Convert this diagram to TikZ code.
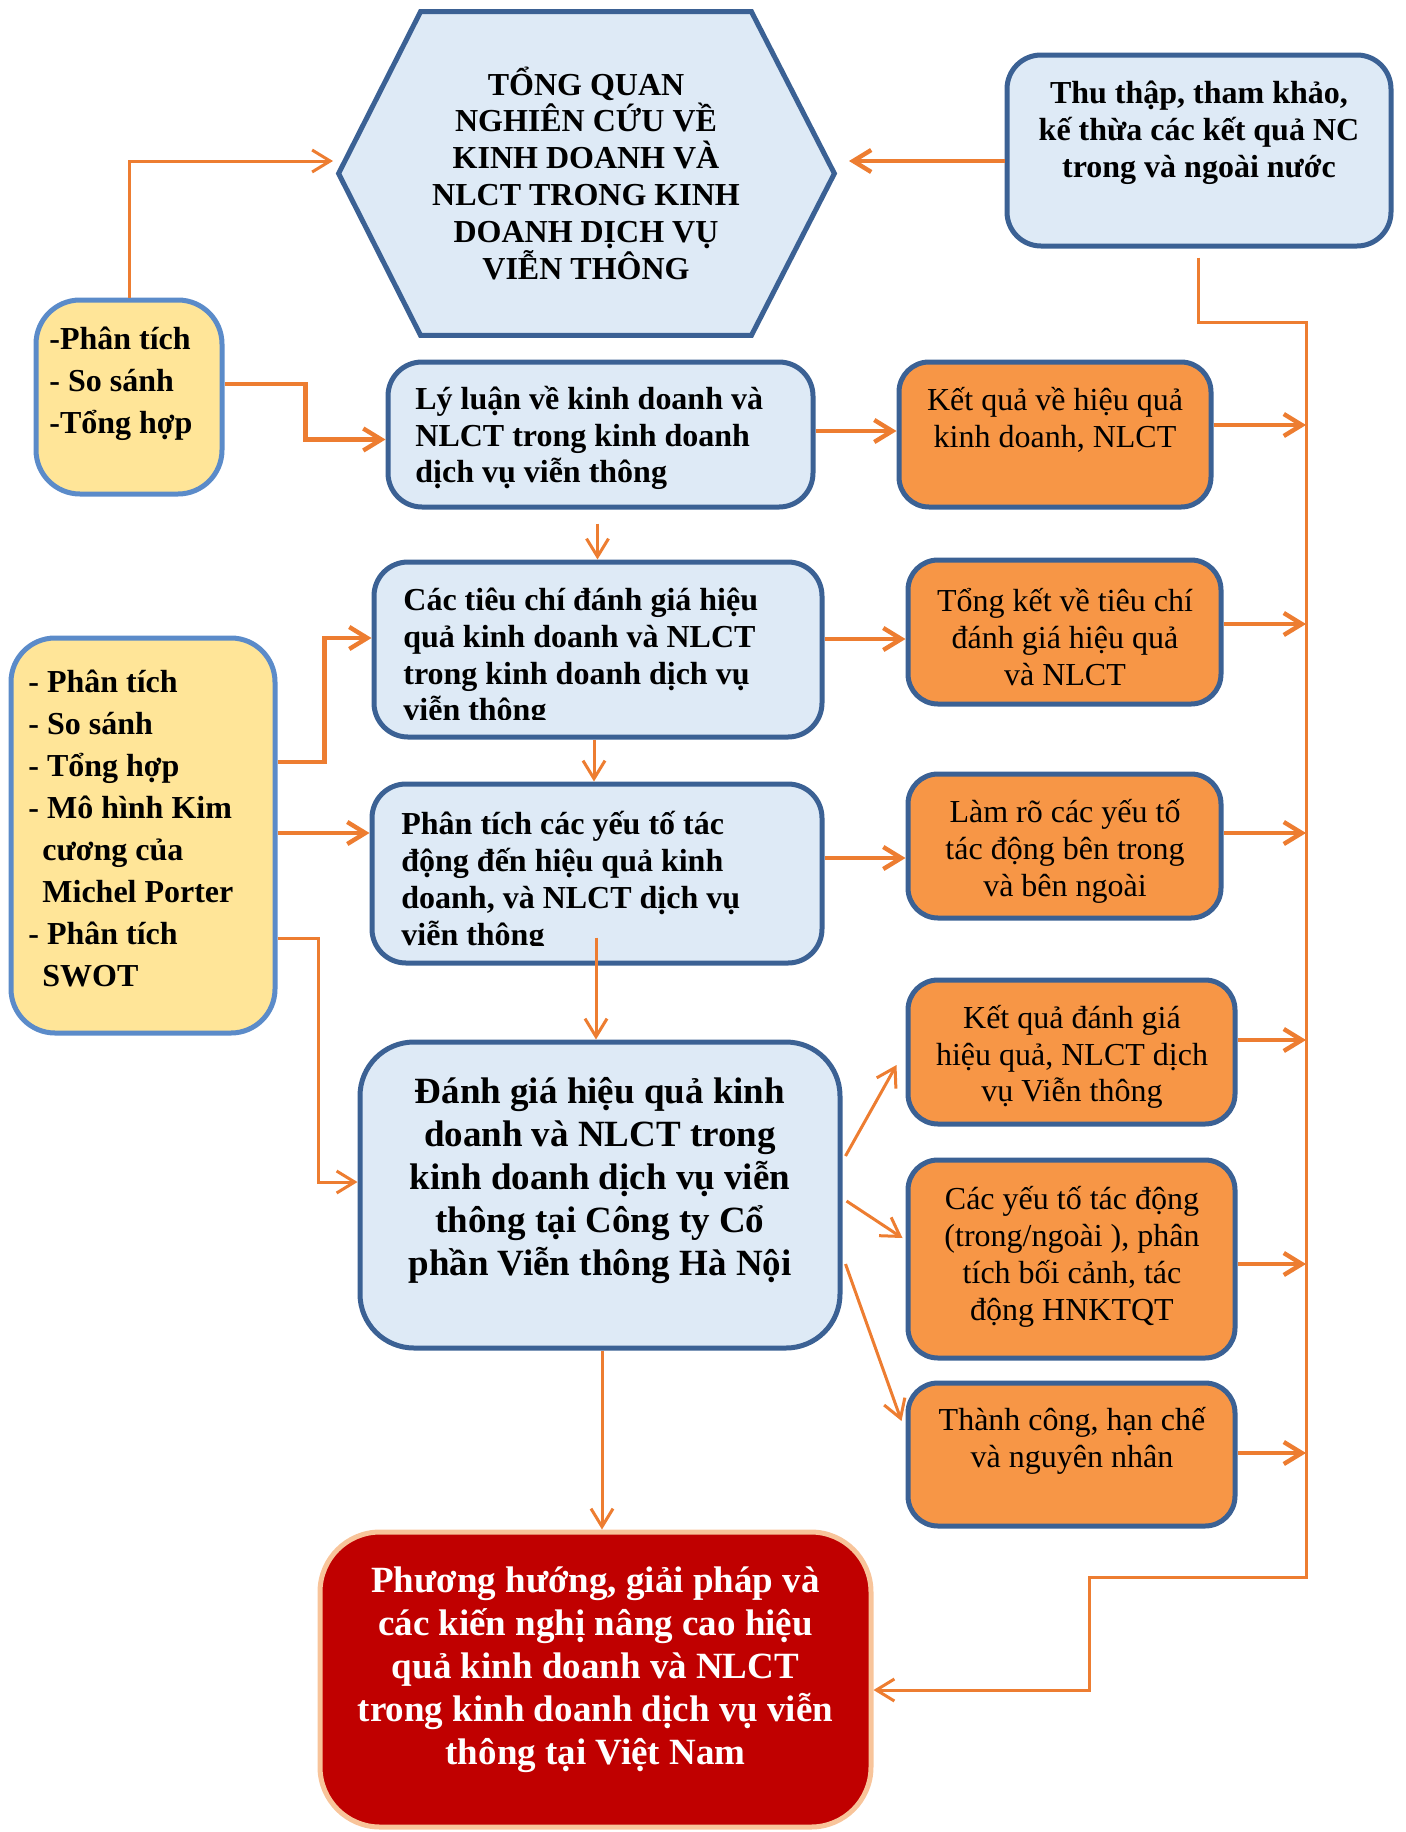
\documentclass[tikz,border=0pt]{standalone}
\usepackage{fontspec}
\setmainfont{Liberation Serif}
\usetikzlibrary{arrows.meta,calc}
\definecolor{bdark}{HTML}{3B6194}
\definecolor{bfill}{HTML}{DEEAF6}
\definecolor{ofill}{HTML}{F79646}
\definecolor{yfill}{HTML}{FFE598}
\definecolor{yborder}{HTML}{5B8BC9}
\definecolor{rfill}{HTML}{C00000}
\definecolor{rborder}{HTML}{F8C49A}
\definecolor{aor}{HTML}{ED7D31}
\begin{document}
\begin{tikzpicture}[x=0.5pt,y=-0.5pt,
  box/.style={line width=2.5pt, inner sep=0pt},
  bluebox/.style={box, draw=bdark, fill=bfill, rounded corners=17pt},
  orangebox/.style={box, draw=bdark, fill=ofill, rounded corners=15pt},
  yellowbox/.style={box, draw=yborder, fill=yfill, rounded corners=22pt},
  redbox/.style={box, draw=rborder, fill=rfill, rounded corners=30pt},
  txt/.style={font=\fontsize{16}{18.4}\selectfont\bfseries, align=left, inner sep=0pt, anchor=west},
  ctxt/.style={font=\fontsize{16}{18.4}\selectfont\bfseries, align=center, inner sep=0pt},
  otxt/.style={font=\fontsize{16}{18.4}\selectfont, align=center, inner sep=0pt},
  ltxt/.style={font=\fontsize{16}{21}\selectfont\bfseries, align=left, inner sep=0pt, anchor=west},
  btxt/.style={font=\fontsize{18.5}{21.5}\selectfont\bfseries, align=center, inner sep=0pt},
  arr/.style={draw=aor, line width=2.2pt, -{Straight Barb[length=9pt,width=11pt]}},
  thinl/.style={line width=1.5pt}]
\useasboundingbox (0,0) rectangle (1405,1832);

% hexagon
\node[minimum width=247.5pt, minimum height=161.5pt, inner sep=0pt] (hex) at (586.5,173.5) {};
\draw[line width=2.5pt, draw=bdark, fill=bfill, line join=miter]
  (hex.west) -- ($(hex.north west)+(82,0)$) -- ($(hex.north east)+(-83,0)$) -- (hex.east)
  -- ($(hex.south east)+(-83,0)$) -- ($(hex.south west)+(82,0)$) -- cycle;
\node[ctxt] (hex-t) at (586,173) {TỔNG QUAN\\NGHIÊN CỨU VỀ\\KINH DOANH VÀ\\NLCT TRONG KINH\\DOANH DỊCH VỤ\\VIỄN THÔNG};

% boxes
\node[bluebox, minimum width=192pt, minimum height=95.5pt] (thu) at (1199,150.5) {};
\node[yellowbox, minimum width=93pt, minimum height=97pt] (left1) at (129,397) {};
\node[bluebox, minimum width=212.5pt, minimum height=72.5pt] (lyluan) at (600.5,434.5) {};
\node[orangebox, minimum width=156pt, minimum height=72.5pt] (kq1) at (1055,434.5) {};
\node[bluebox, minimum width=224pt, minimum height=87.5pt] (tieuchi) at (598,649.5) {};
\node[orangebox, minimum width=156.5pt, minimum height=72pt] (tongket) at (1064.5,632) {};
\node[yellowbox, minimum width=132pt, minimum height=197.5pt] (left2) at (143,835.5) {};
\node[bluebox, minimum width=225pt, minimum height=89.5pt] (phantich) at (597,873.5) {};
\node[orangebox, minimum width=156.5pt, minimum height=72pt] (lamro) at (1064.5,846) {};
\node[bluebox, rounded corners=27pt, minimum width=240pt, minimum height=153pt] (danhgia) at (600,1195) {};
\node[orangebox, minimum width=163.5pt, minimum height=72pt] (kq2) at (1071.5,1052) {};
\node[orangebox, minimum width=163.5pt, minimum height=99pt] (cacyeuto) at (1071.5,1259) {};
\node[orangebox, minimum width=163.5pt, minimum height=71.5pt] (thanhcong) at (1071.5,1454.5) {};
\node[redbox, minimum width=275.5pt, minimum height=147.5pt] (red) at (595.5,1679.5) {};

% texts
\node[ctxt] (thu-t) at (1199,133) {Thu thập, tham khảo,\\kế thừa các kết quả NC\\trong và ngoài nước};
\node[ltxt] (left1-t) at (49,384) {-Phân tích\\- So sánh\\-Tổng hợp};
\node[txt] (lyluan-t) at (415,438) {Lý luận về kinh doanh và\\NLCT trong kinh doanh\\dịch vụ viễn thông};
\node[otxt] (kq1-t) at (1055,420) {Kết quả về hiệu quả\\kinh doanh, NLCT};
\begin{scope}
\clip (0,0) rectangle (1405,719);
\node[txt] (tieuchi-t) at (403,658) {Các tiêu chí đánh giá hiệu\\quả kinh doanh và NLCT\\trong kinh doanh dịch vụ\\viễn thông};
\end{scope}
\node[otxt] (tongket-t) at (1065,637) {Tổng kết về tiêu chí\\đánh giá hiệu quả\\và NLCT};
\node[ltxt] (left2-t) at (28,828) {- Phân tích\\- So sánh\\- Tổng hợp\\- Mô hình Kim\\\hspace*{7pt}cương của\\\hspace*{7pt}Michel Porter\\- Phân tích\\\hspace*{7pt}SWOT};
\begin{scope}
\clip (0,0) rectangle (1405,945);
\node[txt] (phantich-t) at (401,882) {Phân tích các yếu tố tác\\động đến hiệu quả kinh\\doanh, và NLCT dịch vụ\\viễn thông};
\end{scope}
\node[otxt] (lamro-t) at (1065,851.5) {Làm rõ các yếu tố\\tác động bên trong\\và bên ngoài};
\node[btxt] (danhgia-t) at (600,1181) {Đánh giá hiệu quả kinh\\doanh và NLCT trong\\kinh doanh dịch vụ viễn\\thông tại Công ty Cổ\\phần Viễn thông Hà Nội};
\node[otxt] (kq2-t) at (1072,1057) {Kết quả đánh giá\\hiệu quả, NLCT dịch\\vụ Viễn thông};
\node[otxt] (cacyeuto-t) at (1072,1257) {Các yếu tố tác động\\(trong/ngoài ), phân\\tích bối cảnh, tác\\động HNKTQT};
\node[otxt] (thanhcong-t) at (1072,1441) {Thành công, hạn chế\\và nguyên nhân};
\node[btxt, text=white] (red-t) at (595.5,1670) {Phương hướng, giải pháp và\\các kiến nghị nâng cao hiệu\\quả kinh doanh và NLCT\\trong kinh doanh dịch vụ viễn\\thông tại Việt Nam};

% connector points
\coordinate (hl) at (333,161);
\coordinate (hr) at (849,161);
\coordinate (bt) at (1306,322);
\coordinate (bb) at (1306,1577);
\coordinate (bj) at (1089,1690);

% connectors
\draw[arr] (thu.west |- hr) -- (hr);
\draw[arr, thinl] (left1.north) |- (hl);
\draw[arr] ($(left1.east)+(0,-13)$) -- ++(81,0) |- ($(lyluan.west)+(0,5)$);
\draw[arr] ($(lyluan.east)+(0,-3.5)$) coordinate (s1) -- (s1 -| kq1.west);
\draw[arr] ($(kq1.east)+(0,-9.5)$) coordinate (s2) -- (s2 -| bt);
\draw[arr, thinl] ($(lyluan.south)+(-3,14)$) coordinate (s3) -- (s3 |- tieuchi.north);
\draw[arr] ($(tieuchi.east)+(0,-10.5)$) coordinate (s4) -- (s4 -| tongket.west);
\draw[arr] ($(tongket.east)+(0,-8)$) coordinate (s5) -- (s5 -| bt);
\draw[arr, thinl] ($(tieuchi.south)+(-4,0)$) coordinate (s6) -- (s6 |- phantich.north);
\draw[arr] ($(left2.east)+(0,-73.5)$) -- ++(47,0) |- ($(tieuchi.west)+(0,-11.5)$);
\draw[arr] ($(left2.east)+(0,-2.5)$) coordinate (s7) -- (s7 -| phantich.west);
\draw[arr] ($(phantich.east)+(0,-15.5)$) coordinate (s8) -- (s8 -| lamro.west);
\draw[arr] ($(lamro.east)+(0,-13)$) coordinate (s9) -- (s9 -| bt);
\draw[arr, thinl] ($(phantich.south)+(-1,-28)$) coordinate (s10) -- (s10 |- danhgia.north);
\draw[arr, thinl] ($(left2.east)+(0,102.5)$) -- ++(41,0) |- ($(danhgia.west)+(0,-13)$);
\draw[arr, thinl] ($(danhgia.east)+(3,-39)$) -- ($(kq2.west)+(-9,13)$);
\draw[arr, thinl] ($(danhgia.east)+(4,6)$) -- ($(cacyeuto.west)+(-3,-21)$);
\draw[arr, thinl] ($(danhgia.east)+(3,69)$) -- ($(thanhcong.west)+(-4,-33.5)$);
\draw[arr] ($(kq2.east)+(0,-12)$) coordinate (s11) -- (s11 -| bt);
\draw[arr] ($(cacyeuto.east)+(0,5)$) coordinate (s12) -- (s12 -| bt);
\draw[arr] ($(thanhcong.east)+(0,-1.5)$) coordinate (s13) -- (s13 -| bt);
\draw[arr, thinl] ($(danhgia.south)+(2,0)$) coordinate (s14) -- (s14 |- red.north);
\draw[arr, thinl] ($(thu.south)+(-1,9)$) |- (bt) -- (bb) -| (bj) -- (red.east |- bj);
\end{tikzpicture}
\end{document}
